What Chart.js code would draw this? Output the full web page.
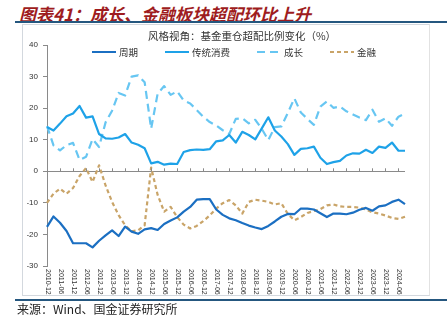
<!DOCTYPE html>
<html>
<head>
<meta charset="utf-8">
<script src="https://cdn.jsdelivr.net/npm/chart.js@4.4.1/dist/chart.umd.min.js"></script>
<style>
  body { margin: 0; background: #fff; }
  #wrap { position: relative; width: 447px; height: 323px; overflow: hidden; background: #fff; }
  .title { position: absolute; left: 19px; top: 1px; font: italic bold 17px "Noto Sans CJK SC", sans-serif; color: #9e1c20; white-space: nowrap; }
  .rule { position: absolute; left: 15px; right: 0; height: 2px; background: #25577f; }
  .box { position: absolute; left: 22px; top: 24px; width: 408px; height: 272px; border: 1px solid #d3d8de; border-right-color: #e2e2e2; box-sizing: border-box; }
  canvas { position: absolute; left: 0; top: 0; }
  .src { position: absolute; left: 17px; top: 300px; font: 12px "Noto Sans CJK SC", sans-serif; color: #222; white-space: nowrap; }
</style>
</head>
<body>
<div id="wrap">
  <div class="title">图表41：成长、金融板块超配环比上升</div>
  <div class="rule" style="top:21px"></div>
  <div class="box"></div>
  <canvas id="chart" width="447" height="323"></canvas>
  <div class="rule" style="top:299px"></div>
  <div class="src">来源：Wind、国金证券研究所</div>
</div>
<script>
const dates = [
  "2010-12", "2011-03", "2011-06", "2011-09", "2011-12", "2012-03", "2012-06", "2012-09",
  "2012-12", "2013-03", "2013-06", "2013-09", "2013-12", "2014-03", "2014-06", "2014-09",
  "2014-12", "2015-03", "2015-06", "2015-09", "2015-12", "2016-03", "2016-06", "2016-09",
  "2016-12", "2017-03", "2017-06", "2017-09", "2017-12", "2018-03", "2018-06", "2018-09",
  "2018-12", "2019-03", "2019-06", "2019-09", "2019-12", "2020-03", "2020-06", "2020-09",
  "2020-12", "2021-03", "2021-06", "2021-09", "2021-12", "2022-03", "2022-06", "2022-09",
  "2022-12", "2023-03", "2023-06", "2023-09", "2023-12", "2024-03", "2024-06", "2024-09"
];

const cycle = [
  -17.6, -14.3, -16.3, -18.9, -22.8, -22.8, -22.8, -24.1, -22.0, -20.3,
  -18.7, -20.5, -17.5, -19.1, -19.8, -18.4, -18.0, -18.6, -16.7, -15.6,
  -14.6, -12.8, -11.3, -9.0, -8.8, -8.8, -12.1, -13.8, -14.9, -15.5,
  -16.4, -17.2, -17.8, -18.3, -17.3, -15.9, -14.4, -13.5, -13.6, -11.8,
  -11.8, -12.1, -13.3, -14.5, -13.4, -13.4, -13.6, -13.1, -12.2, -11.6,
  -12.5, -11.1, -10.8, -9.7, -9.0, -10.4
];
const consumer = [
  14.0, 12.9, 15.1, 17.4, 18.3, 20.7, 17.0, 17.4, 11.8, 10.4,
  10.3, 10.7, 11.8, 9.1, 8.4, 7.3, 2.5, 3.0, 2.1, 2.4,
  2.3, 6.1, 6.7, 6.9, 6.8, 7.0, 9.5, 9.8, 11.5, 9.1,
  12.5, 11.5, 10.1, 13.6, 17.1, 12.9, 11.0, 8.6, 5.2, 7.1,
  7.3, 7.8, 4.3, 2.3, 2.9, 3.3, 5.0, 5.7, 5.6, 6.8,
  5.8, 7.8, 7.4, 9.1, 6.5, 6.5
];
const growth = [
  14.3, 8.2, 6.6, 8.3, 9.0, 3.6, 4.6, 10.2, 7.7, 15.5,
  19.2, 24.8, 24.0, 30.0, 30.4, 28.2, 13.5, 24.6, 27.0, 24.2,
  25.3, 22.4, 21.5, 19.4, 17.3, 15.6, 14.5, 13.0, 11.8, 16.6,
  16.8, 15.2, 16.3, 13.4, 9.9, 14.0, 14.2, 18.5, 23.1, 18.6,
  16.6, 14.7, 20.5, 22.1, 20.1, 20.5, 19.0, 18.0, 17.0, 16.2,
  19.5, 15.7, 16.8, 14.4, 17.3, 18.3
];
const finance = [
  -10.0, -7.1, -5.5, -7.1, -5.3, -1.5, 1.0, -3.4, 1.9, -4.5,
  -9.7, -13.9, -17.1, -19.0, -18.7, -17.1, 1.2, -7.5, -12.8, -11.3,
  -14.5, -16.9, -18.1, -17.3, -15.8, -14.0, -11.8, -10.1, -9.1, -10.8,
  -13.4, -9.7, -9.0, -9.3, -9.7, -10.5, -10.1, -13.5, -15.5, -14.5,
  -13.2, -12.6, -12.0, -10.8, -10.5, -11.1, -11.3, -11.3, -11.5, -12.1,
  -13.0, -13.4, -14.0, -14.8, -15.1, -14.4
];

const seriesNames = ["周期", "传统消费", "成长", "金融"];
const yTicks = [-30, -20, -10, 0, 10, 20, 30, 40];
const subtitle = "风格视角：基金重仓超配比例变化（%）";

// subtitle, legend, rotated date labels and small ticks on the zero line
const overlay = {
  id: "overlay",
  afterDraw(chart) {
    const { ctx, chartArea, scales: { x, y } } = chart;
    const y0 = y.getPixelForValue(0);
    ctx.save();

    ctx.strokeStyle = "#8a8a8a";
    ctx.lineWidth = 1;
    ctx.fillStyle = "#333";
    ctx.font = '7px "Liberation Sans", Arial, sans-serif';
    dates.forEach((d, i) => {
      if (i % 2) return;
      const px = Math.round(x.getPixelForValue(i)) + 0.5;
      ctx.beginPath();
      ctx.moveTo(px, y0 - 3);
      ctx.lineTo(px, y0);
      ctx.stroke();
      ctx.save();
      ctx.translate(px, chartArea.bottom + 3);
      ctx.rotate(Math.PI / 2);
      ctx.textAlign = "left";
      ctx.textBaseline = "middle";
      ctx.fillText(d, 0, 0);
      ctx.restore();
    });

    ctx.font = '10.5px "Noto Sans CJK SC", sans-serif';
    ctx.fillStyle = "#333";
    ctx.textAlign = "center";
    ctx.textBaseline = "middle";
    ctx.fillText(subtitle, 242, 36);

    // legend
    ctx.font = '9.5px "Noto Sans CJK SC", sans-serif';
    ctx.textAlign = "left";
    const sample = 24, gapText = 3, gapItem = 27;
    const widths = seriesNames.map(n => sample + gapText + ctx.measureText(n).width);
    const total = widths.reduce((a, b) => a + b, 0) + gapItem * (widths.length - 1);
    let lx = 234 - total / 2;
    const ly = 52;
    chart.data.datasets.forEach((ds, i) => {
      ctx.save();
      ctx.strokeStyle = ds.borderColor;
      ctx.lineWidth = 2;
      ctx.setLineDash(ds.borderDash || []);
      ctx.beginPath();
      ctx.moveTo(lx, ly);
      ctx.lineTo(lx + sample, ly);
      ctx.stroke();
      ctx.restore();
      ctx.fillStyle = "#333";
      ctx.fillText(ds.label, lx + sample + gapText, ly);
      lx += widths[i] + gapItem;
    });
    ctx.restore();
  }
};

new Chart(document.getElementById("chart"), {
  type: "line",
  data: {
    labels: dates,
    datasets: [
      { label: seriesNames[0], data: cycle, borderColor: "#1b6fc2", borderWidth: 2.2 },
      { label: seriesNames[1], data: consumer, borderColor: "#1ea2e8", borderWidth: 2.2 },
      { label: seriesNames[2], data: growth, borderColor: "#67c6f2", borderWidth: 2.2, borderDash: [8, 5] },
      { label: seriesNames[3], data: finance, borderColor: "#c9a468", borderWidth: 2.2, borderDash: [4, 3] }
    ]
  },
  options: {
    responsive: false,
    animation: false,
    layout: { padding: { left: 27, right: 42, top: 45, bottom: 57 } },
    elements: {
      point: { radius: 0 },
      line: { tension: 0, borderCapStyle: "butt", borderJoinStyle: "round" }
    },
    plugins: {
      legend: { display: false },
      title: { display: false },
      tooltip: { enabled: false }
    },
    scales: {
      x: { type: "category", display: false, offset: false },
      y: {
        min: -30,
        max: 40,
        afterFit: (scale) => { scale.width = 20; },
        afterBuildTicks: (scale) => { scale.ticks = yTicks.map(v => ({ value: v })); },
        border: { display: true, color: "#8a8a8a", width: 1 },
        grid: {
          drawOnChartArea: true,
          drawTicks: true,
          tickLength: 4,
          tickColor: "#8a8a8a",
          color: (c) => (c.tick && c.tick.value === 0 ? "#8a8a8a" : "rgba(0,0,0,0)")
        },
        ticks: {
          padding: 5,
          color: "#333",
          font: { family: '"Liberation Sans", Arial, sans-serif', size: 8 }
        }
      }
    }
  },
  plugins: [overlay]
});
</script>
</body>
</html>
